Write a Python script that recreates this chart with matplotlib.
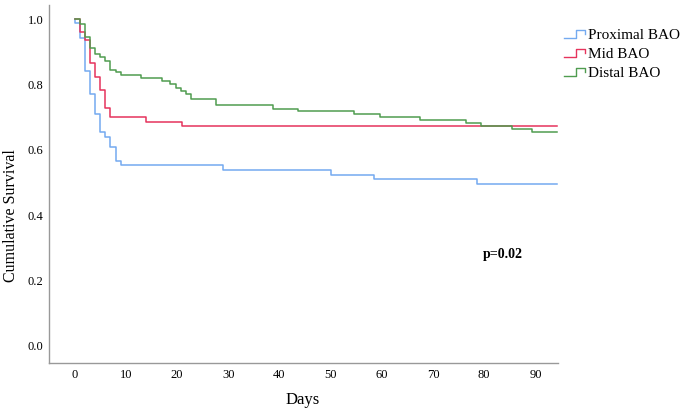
import matplotlib
matplotlib.use("Agg")
import matplotlib.pyplot as plt
from matplotlib.legend_handler import HandlerBase
from matplotlib.lines import Line2D

# Kaplan-Meier step data (time in days, survival)
prox_t = [0, 0.1, 1, 2, 3, 4, 5, 6, 7, 8, 9, 29, 50, 58.5, 78.5, 94.2]
prox_s = [1.0, 0.988, 0.943, 0.842, 0.770, 0.710, 0.653, 0.639, 0.610, 0.566, 0.553,
          0.538, 0.523, 0.510, 0.495, 0.495]

mid_t = [0, 1, 2, 3, 4, 5, 6, 7, 14, 21, 94.2]
mid_s = [1.0, 0.959, 0.936, 0.864, 0.823, 0.783, 0.727, 0.700, 0.686, 0.673, 0.673]

dist_t = [0, 1, 2, 3, 4, 5, 6, 7, 8, 9, 13, 17, 18.7, 19.8, 20.7, 21.8, 22.8, 27.7,
          38.7, 43.7, 54.6, 59.6, 67.5, 76.4, 79.4, 85.4, 89.3, 94.2]
dist_s = [1.0, 0.985, 0.946, 0.910, 0.893, 0.883, 0.873, 0.845, 0.837, 0.828, 0.819,
          0.810, 0.800, 0.789, 0.781, 0.771, 0.755, 0.736, 0.726, 0.719, 0.708, 0.699,
          0.690, 0.681, 0.672, 0.663, 0.653, 0.653]

labels = ["Proximal BAO", "Mid BAO", "Distal BAO"]
colors = ["#74aaf0", "#e6335c", "#4f9c4f"]
x_ticks = [0, 10, 20, 30, 40, 50, 60, 70, 80, 90]
y_ticks = [0.0, 0.2, 0.4, 0.6, 0.8, 1.0]

plt.rcParams["font.family"] = ["Liberation Serif", "DejaVu Serif"]


class StepHandler(HandlerBase):
    """Draw the small step-shaped legend key used by SPSS."""
    def create_artists(self, legend, orig_handle, xdescent, ydescent,
                       width, height, fontsize, trans):
        w, h = width, height
        xs = [0, 0.55 * w, 0.55 * w, 0.95 * w, 0.95 * w]
        ys = [0.1 * h, 0.1 * h, 0.8 * h, 0.8 * h, 0.45 * h]
        line = Line2D(xs, ys, color=orig_handle.get_color(), linewidth=1.0)
        line.set_transform(trans)
        return [line]


fig = plt.figure(figsize=(6.85, 4.12), dpi=100)
ax = fig.add_axes([0.0715, 0.119, 0.743, 0.869])

handles = []
for t, s, c, lab in zip([prox_t, mid_t, dist_t], [prox_s, mid_s, dist_s], colors, labels):
    h, = ax.step(t, s, where="post", color=c, linewidth=1.1, label=lab)
    handles.append(h)

ax.set_xlim(-5, 94.4)
ax.set_ylim(-0.052, 1.043)
ax.set_xticks(x_ticks)
ax.set_yticks(y_ticks)
ax.set_yticklabels([f"{v:.1f}" for v in y_ticks])
ax.tick_params(length=0, labelsize=9, pad=4)

for side in ["top", "right"]:
    ax.spines[side].set_visible(False)
for side in ["left", "bottom"]:
    ax.spines[side].set_color("#999999")
    ax.spines[side].set_linewidth(1.0)

# axis titles placed as figure text (SPSS layout)
fig.text(0.442, 0.029, "Days", fontsize=12, ha="center", va="center")
fig.text(0.016, 0.476, "Cumulative Survival", fontsize=11.5, rotation=90,
         ha="center", va="center")

ax.text(0.892, 0.302, "p=0.02", transform=ax.transAxes, fontsize=10,
        fontweight="bold", ha="center", va="center")

fig.legend(handles, labels, loc="upper left", bbox_to_anchor=(0.812, 0.95),
           frameon=False, fontsize=11, handler_map={Line2D: StepHandler()},
           handlelength=1.45, handletextpad=0.15, labelspacing=0.35, borderpad=0)

fig.savefig("out.png", dpi=100)
